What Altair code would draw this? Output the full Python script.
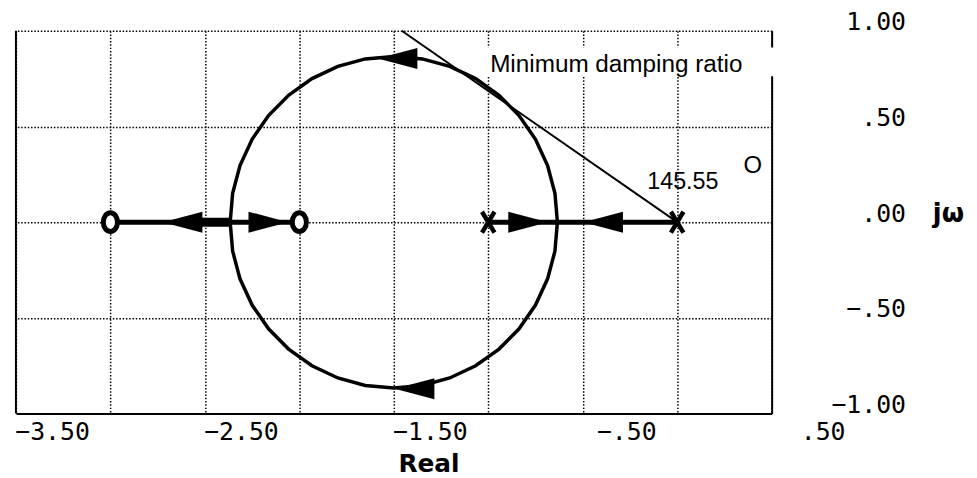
import altair as alt
import pandas as pd

# ---- data ----
# circular part of the root locus
circle_x = [-0.634, -0.647, -0.686, -0.750, -0.837, -0.943, -1.067, -1.204, -1.349, -1.500,
            -1.651, -1.796, -1.933, -2.057, -2.163, -2.250, -2.314, -2.353, -2.366,
            -2.353, -2.314, -2.250, -2.163, -2.057, -1.933, -1.796, -1.651, -1.500,
            -1.349, -1.204, -1.067, -0.943, -0.837, -0.750, -0.686, -0.647, -0.634]
circle_y = [0.0, 0.151, 0.296, 0.433, 0.557, 0.663, 0.750, 0.814, 0.853, 0.866,
            0.853, 0.814, 0.750, 0.663, 0.557, 0.433, 0.296, 0.151, 0.0,
            -0.151, -0.296, -0.433, -0.557, -0.663, -0.750, -0.814, -0.853, -0.866,
            -0.853, -0.814, -0.750, -0.663, -0.557, -0.433, -0.296, -0.151, 0.0]

# real-axis branches
branch_seg = ["zeros", "zeros", "poles", "poles"]
branch_x = [-3.0, -2.0, -1.0, 0.0]
branch_y = [0.0, 0.0, 0.0, 0.0]
overlap_x = [-2.60, -2.37]
overlap_y = [0.0, 0.0]

zeros_x = [-3.0, -2.0]
zeros_y = [0.0, 0.0]
poles_x = [-1.0, 0.0]
poles_y = [0.0, 0.0]

arrow_x = [-2.618, -2.164, -0.789, -0.392, -1.48, -1.39]
arrow_y = [0.0, 0.0, 0.0, 0.0, 0.855, -0.87]
arrow_dir = ["left", "right", "right", "left", "left", "left"]

damping_x = [-1.458, 0.0]
damping_y = [1.0, 0.0]

box_x, box_x2, box_y, box_y2 = [-1.03], [0.52], [0.912], [0.762]

note_text = ["Minimum damping ratio"]
note_x, note_y = [-0.99], [0.82]
angle_text = ["145.55"]
angle_x, angle_y = [0.03], [0.212]
o_text = ["O"]
o_x, o_y = [0.40], [0.295]

x_grid_values = [-3.5, -3.0, -2.5, -2.0, -1.5, -1.0, -0.5, 0.0, 0.5]
y_grid_values = [-1.0, -0.5, 0.0, 0.5, 1.0]

# ---- shapes ----
ARROW_LEFT = "M-1,0L1,-0.53L1,0.53Z"
ARROW_RIGHT = "M1,0L-1,-0.53L-1,0.53Z"
ZERO_SHAPE = "M0,-1A0.75,1 0 1,1 0,1A0.75,1 0 1,1 0,-1Z"
POLE_SHAPE = "M-0.6,-1L0.6,1M0.6,-1L-0.6,1"

MONO = "DejaVu Sans Mono"

x_axis = alt.Axis(
    values=x_grid_values, grid=True, gridDash=[1.5, 1.8], gridColor="black", gridWidth=1.5,
    domain=True, domainColor="black", domainWidth=2, ticks=False,
    labelExpr="abs(round(datum.value*2)) % 2 == 1 ? replace(format(datum.value, '.2f'), '0.', '.') : ''",
    labelAlign="right", labelOffset=74, labelPadding=6, labelBaseline="top",
    labelFont=MONO, labelFontSize=25, labelColor="black",
    labelFlush=False, labelOverlap=False, labelBound=False,
    title="Real", titleFont="DejaVu Sans", titleFontSize=25, titleFontWeight="bold",
    titleColor="black", titleX=416, titleY=58, titleAlign="center", titleBaseline="alphabetic",
)
y_axis = alt.Axis(
    orient="right", values=y_grid_values, grid=True, gridDash=[1.5, 1.8], gridColor="black",
    gridWidth=1.5, domain=True, domainColor="black", domainWidth=2, ticks=False,
    labelExpr="replace(format(datum.value, '.2f'), '0.', '.')",
    labelAlign="right", labelPadding=135, labelBaseline="middle", labelOffset=-9,
    labelFont=MONO, labelFontSize=25, labelColor="black",
    labelFlush=False, labelOverlap=False, labelBound=False,
    title="jω", titleAngle=0, titleX=162, titleY=184, titleAlign="left", titleBaseline="middle",
    titleFont="DejaVu Sans", titleFontSize=26, titleFontWeight="bold", titleColor="black",
)
xs = alt.Scale(domain=[-3.5, 0.5], nice=False, zero=False)
ys = alt.Scale(domain=[-1.0, 1.0], nice=False, zero=False)


def X(f="x"):
    return alt.X(f"{f}:Q", scale=xs, axis=x_axis)


def Y(f="y"):
    return alt.Y(f"{f}:Q", scale=ys, axis=y_axis)


circle_df = pd.DataFrame({"x": circle_x, "y": circle_y, "i": list(range(len(circle_x)))})
branch_df = pd.DataFrame({"x": branch_x, "y": branch_y, "seg": branch_seg})
overlap_df = pd.DataFrame({"x": overlap_x, "y": overlap_y})
zeros_df = pd.DataFrame({"x": zeros_x, "y": zeros_y})
poles_df = pd.DataFrame({"x": poles_x, "y": poles_y})
arrow_df = pd.DataFrame({"x": arrow_x, "y": arrow_y, "dir": arrow_dir})
damp_df = pd.DataFrame({"x": damping_x, "y": damping_y})
box_df = pd.DataFrame({"x": box_x, "x2": box_x2, "y": box_y, "y2": box_y2})
border_df = pd.DataFrame({"x": [-3.5], "y": [-1.0], "y2": [1.0]})
note_df = pd.DataFrame({"x": note_x, "y": note_y, "t": note_text})
angle_df = pd.DataFrame({"x": angle_x, "y": angle_y, "t": angle_text})
o_df = pd.DataFrame({"x": o_x, "y": o_y, "t": o_text})

box = alt.Chart(box_df).mark_rect(color="white").encode(x=X(), x2="x2:Q", y=Y(), y2="y2:Q")
border = alt.Chart(border_df).mark_rule(color="black", strokeWidth=2).encode(x=X(), y=Y(), y2="y2:Q")
circle = alt.Chart(circle_df).mark_line(color="black", strokeWidth=3.5).encode(
    x=X(), y=Y(), order="i:Q")
branches = alt.Chart(branch_df).mark_line(color="black", strokeWidth=5).encode(
    x=X(), y=Y(), detail="seg:N")
overlap = alt.Chart(overlap_df).mark_line(color="black", strokeWidth=9).encode(x=X(), y=Y())
damp = alt.Chart(damp_df).mark_line(color="black", strokeWidth=2).encode(x=X(), y=Y())
arrows = alt.Chart(arrow_df).mark_point(filled=True, color="black", size=1600, opacity=1).encode(
    x=X(), y=Y(),
    shape=alt.Shape("dir:N", scale=alt.Scale(domain=["left", "right"], range=[ARROW_LEFT, ARROW_RIGHT]),
                    legend=None))
zeros = alt.Chart(zeros_df).mark_point(shape=ZERO_SHAPE, size=361, filled=False, fill="white",
                                       fillOpacity=1, stroke="black", strokeWidth=5, opacity=1).encode(
    x=X(), y=Y())
poles = alt.Chart(poles_df).mark_point(shape=POLE_SHAPE, size=441, stroke="black",
                                       strokeWidth=4.5, opacity=1).encode(x=X(), y=Y())
note = alt.Chart(note_df).mark_text(font="Liberation Sans", fontSize=24.5, align="left",
                                    baseline="middle", color="black").encode(x=X(), y=Y(), text="t:N")
angle = alt.Chart(angle_df).mark_text(font="Liberation Sans", fontSize=23.5, align="center",
                                      baseline="middle", color="black").encode(x=X(), y=Y(), text="t:N")
omark = alt.Chart(o_df).mark_text(font="Liberation Sans", fontSize=24, align="center",
                                  baseline="middle", color="black").encode(x=X(), y=Y(), text="t:N")

chart = alt.layer(
    box, border, circle, branches, overlap, damp, arrows, zeros, poles, note, angle, omark
).properties(
    width=762, height=386,
    autosize=alt.AutoSizeParams(type="none"),
    padding={"left": 8, "top": 21, "right": 199, "bottom": 63},
    background="white",
).configure_view(strokeWidth=0)

chart.save("out.html", embed_options={"renderer": "svg", "actions": False})
